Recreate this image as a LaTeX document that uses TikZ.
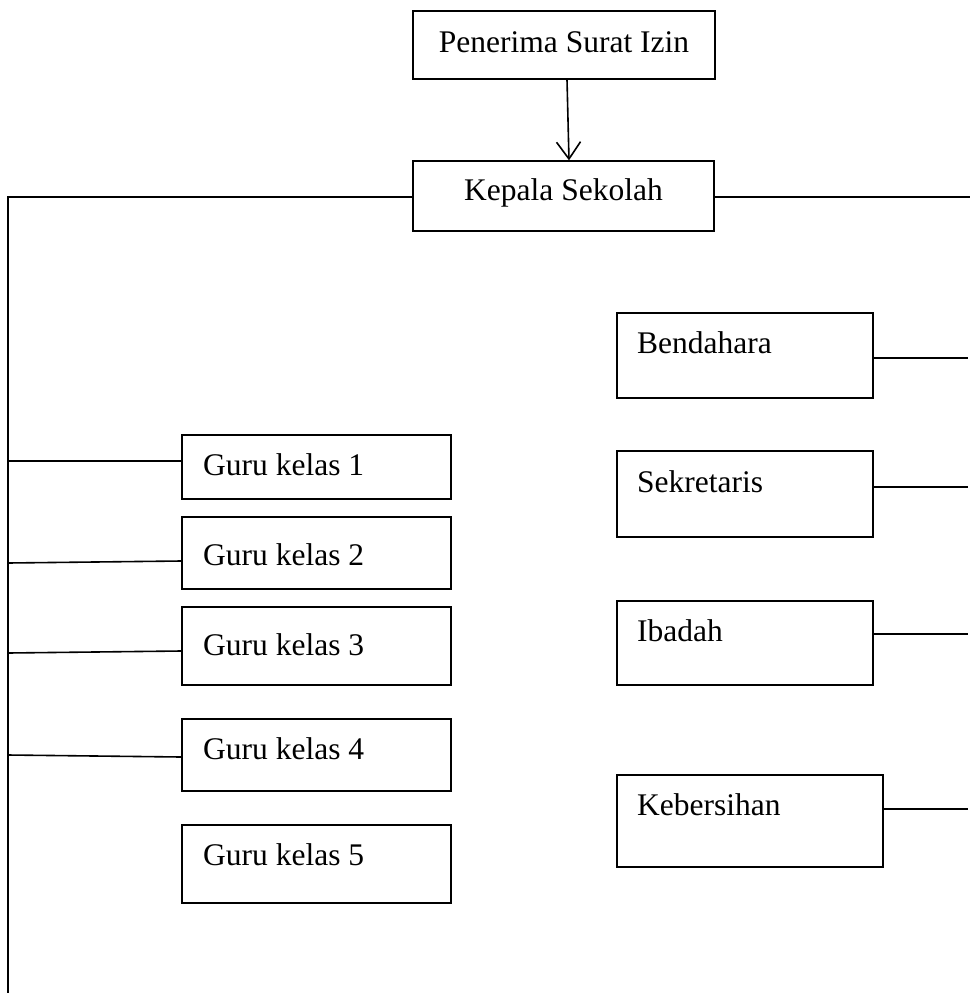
\documentclass[tikz,border=0pt]{standalone}
\usepackage{fontspec}
\setmainfont{Liberation Serif}
\usetikzlibrary{arrows.meta}
\begin{document}
\begin{tikzpicture}[x=1pt,y=-1pt,
  box/.style={draw=black, line width=1.3pt, rectangle, inner sep=0pt},
  lbl/.style={inner sep=0pt, font=\fontsize{31.5}{37}\selectfont},
  conn/.style={draw=black, line width=1.6pt}]
\useasboundingbox (0,0) rectangle (970,993);
% top boxes
\node[box, minimum width=302pt, minimum height=68pt] (pen) at (564,45) {};
\node[lbl, anchor=base] (penT) at (564,52) {Penerima Surat Izin};
\node[box, minimum width=301pt, minimum height=70pt] (kep) at (563.5,196) {};
\node[lbl, anchor=base] (kepT) at (563.5,200) {Kepala Sekolah};
% guru boxes
\node[box, minimum width=269pt, minimum height=64pt] (g1) at (316.5,467) {};
\node[lbl, anchor=base west] (g1T) at (203,475) {Guru kelas 1};
\node[box, minimum width=269pt, minimum height=72pt] (g2) at (316.5,553) {};
\node[lbl, anchor=base west] (g2T) at (203,565) {Guru kelas 2};
\node[box, minimum width=269pt, minimum height=78pt] (g3) at (316.5,646) {};
\node[lbl, anchor=base west] (g3T) at (203,655) {Guru kelas 3};
\node[box, minimum width=269pt, minimum height=72pt] (g4) at (316.5,755) {};
\node[lbl, anchor=base west] (g4T) at (203,759) {Guru kelas 4};
\node[box, minimum width=269pt, minimum height=78pt] (g5) at (316.5,864) {};
\node[lbl, anchor=base west] (g5T) at (203,865) {Guru kelas 5};
% right boxes
\node[box, minimum width=256pt, minimum height=85pt] (ben) at (745,355.5) {};
\node[lbl, anchor=base west] (benT) at (637,353) {Bendahara};
\node[box, minimum width=256pt, minimum height=86pt] (sek) at (745,494) {};
\node[lbl, anchor=base west] (sekT) at (637,492) {Sekretaris};
\node[box, minimum width=256pt, minimum height=84pt] (iba) at (745,643) {};
\node[lbl, anchor=base west] (ibaT) at (637,641) {Ibadah};
\node[box, minimum width=266pt, minimum height=92pt] (keb) at (750,821) {};
\node[lbl, anchor=base west] (kebT) at (637,815) {Kebersihan};
% free ends
\coordinate (tl) at (8,197);
\coordinate (tr) at (970,197);
\coordinate (bl) at (8,993);
\coordinate (s1) at (8,461);
\coordinate (s2) at (8,563);
\coordinate (s3) at (8,653);
\coordinate (s4) at (8,755);
\coordinate (r1) at (968,358);
\coordinate (r2) at (968,487);
\coordinate (r3) at (968,634);
\coordinate (r4) at (968,809);
% connectors
\draw[conn, -{Straight Barb[length=17pt,width=24pt,line width=1.6pt]}] ([xshift=3pt]pen.south) -- ([xshift=5.5pt]kep.north);
\draw[conn] (kep.west |- tl) -- (tl) -- (bl);
\draw[conn] (kep.east |- tr) -- (tr);
\draw[conn] (s1) -- ([yshift=6pt]g1.west);
\draw[conn] (s2) -- ([yshift=-8pt]g2.west);
\draw[conn] (s3) -- ([yshift=-5pt]g3.west);
\draw[conn] (s4) -- ([yshift=-2pt]g4.west);
\draw[conn] ([yshift=-2.5pt]ben.east) -- (r1);
\draw[conn] ([yshift=7pt]sek.east) -- (r2);
\draw[conn] ([yshift=9pt]iba.east) -- (r3);
\draw[conn] ([yshift=12pt]keb.east) -- (r4);
\end{tikzpicture}
\end{document}
